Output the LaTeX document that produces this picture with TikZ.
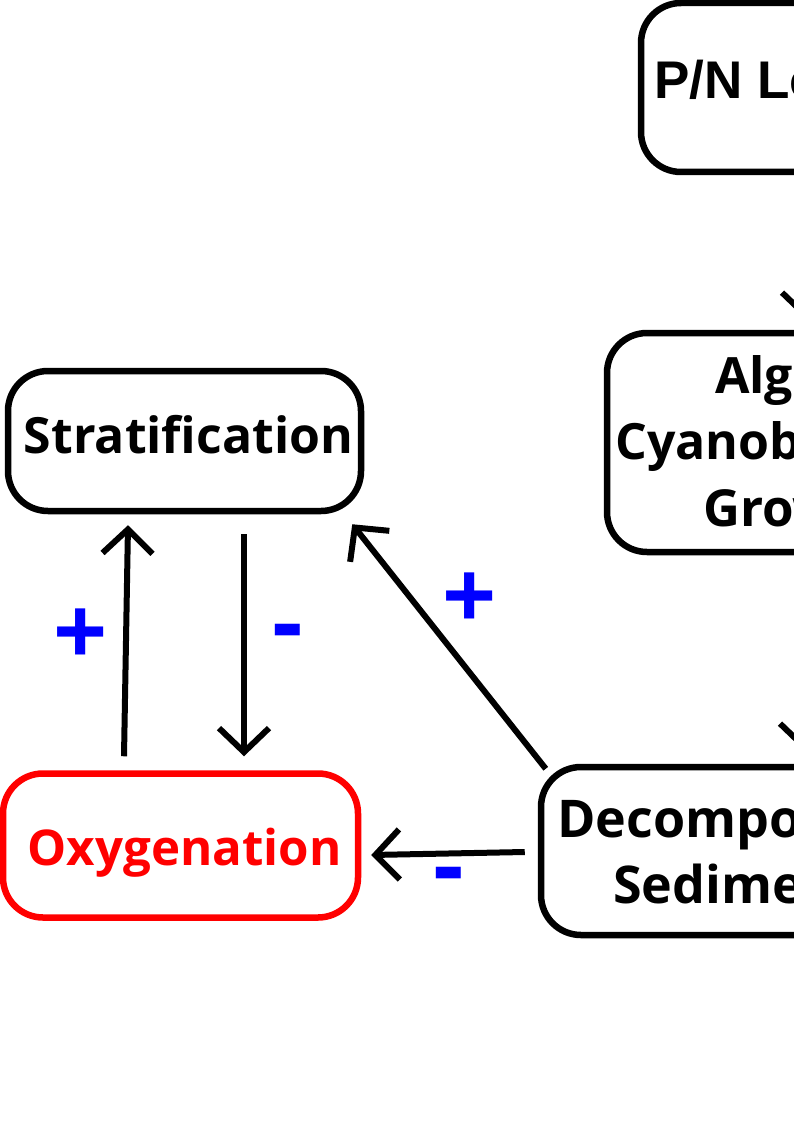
\documentclass[tikz,border=0pt]{standalone}
\usepackage{fontspec}
\setmainfont{Open Sans}
\newfontfamily\arialfont{Liberation Sans}
\usetikzlibrary{arrows.meta,calc}
\definecolor{signblue}{RGB}{0,0,255}
\definecolor{oxred}{RGB}{255,0,0}
\begin{document}
\begin{tikzpicture}[x=1pt,y=-1pt,
  box/.style={draw=black, line width=6.5pt, rounded corners=40pt, inner sep=0pt, fill=white},
  lbl/.style={inner sep=0pt, font=\bfseries},
  sign/.style={inner sep=0pt, text=signblue, font=\fontsize{95pt}{95pt}\selectfont\bfseries},
  arr/.style={line width=6pt, -{Straight Barb[length=24pt,width=50pt]}}]
\useasboundingbox (0,0) rectangle (794,1123);
\clip (0,0) rectangle (794,1123);
% boxes
\node[box, minimum width=341pt, minimum height=169pt] (pn) at (811.5,87.5) {};
\node[box, minimum width=400pt, minimum height=219pt] (alg) at (807,442.5) {};
\node[box, minimum width=353pt, minimum height=140pt] (strat) at (184.5,441) {};
\node[box, draw=oxred, minimum width=355pt, minimum height=144pt] (oxy) at (180.5,845.5) {};
\node[box, minimum width=400pt, minimum height=168pt] (dec) at (741,851) {};
% texts
\node[inner sep=0pt, anchor=base west, font=\arialfont\bfseries\fontsize{53pt}{53pt}\selectfont] (pnt) at (654,99) {P/N Loading};
\node[lbl, anchor=base west, font=\bfseries\fontsize{50pt}{50pt}\selectfont] (alg1) at (715,393) {Algae/};
\node[lbl, anchor=base west, font=\bfseries\fontsize{50pt}{50pt}\selectfont] (alg2) at (615,459) {Cyanobacteria};
\node[lbl, anchor=base west, font=\bfseries\fontsize{51pt}{51pt}\selectfont] (alg3) at (703,526) {Growth};
\node[lbl, anchor=base] (stt) at (188.5,453) {\resizebox{329pt}{!}{\bfseries Stratification}};
\node[lbl, anchor=base, text=oxred] (oxt) at (184.5,865) {\resizebox{314pt}{!}{\bfseries Oxygenation}};
\node[lbl, anchor=base west, font=\bfseries\fontsize{52pt}{52pt}\selectfont] (dec1) at (557,837) {Decomposition};
\node[lbl, anchor=base west, font=\bfseries\fontsize{52pt}{52pt}\selectfont] (dec2) at (613,903) {Sediments};
% connectors
\draw[arr] ($(oxy.north)+(-56.5,-14)$) -- ($(strat.south)+(-56.5,11)$);
\draw[arr] ($(strat.south)+(59.5,20)$) -- ($(oxy.north)+(63.5,-14)$);
\draw[arr] ($(dec.north west)+(8,5)$) -- ($(strat.south east)+(-12,10)$);
\draw[arr] ($(dec.west)+(-13,1)$) -- ($(oxy.east)+(10,9.5)$);
\draw[arr] ($(pn.south)+(-4.5,13)$) -- ($(alg.north)+(0,-9)$);
\draw[arr] ($(alg.south)+(-2,13)$) -- ($(alg.south |- dec.north)+(-2,-12)$);
% signs
\node[sign] (s1) at (81,637) {+};
\node[sign] (s2) at (288,640) {-};
\node[sign] (s3) at (470,601) {+};
\node[sign] (s4) at (449,883) {-};
\end{tikzpicture}
\end{document}
